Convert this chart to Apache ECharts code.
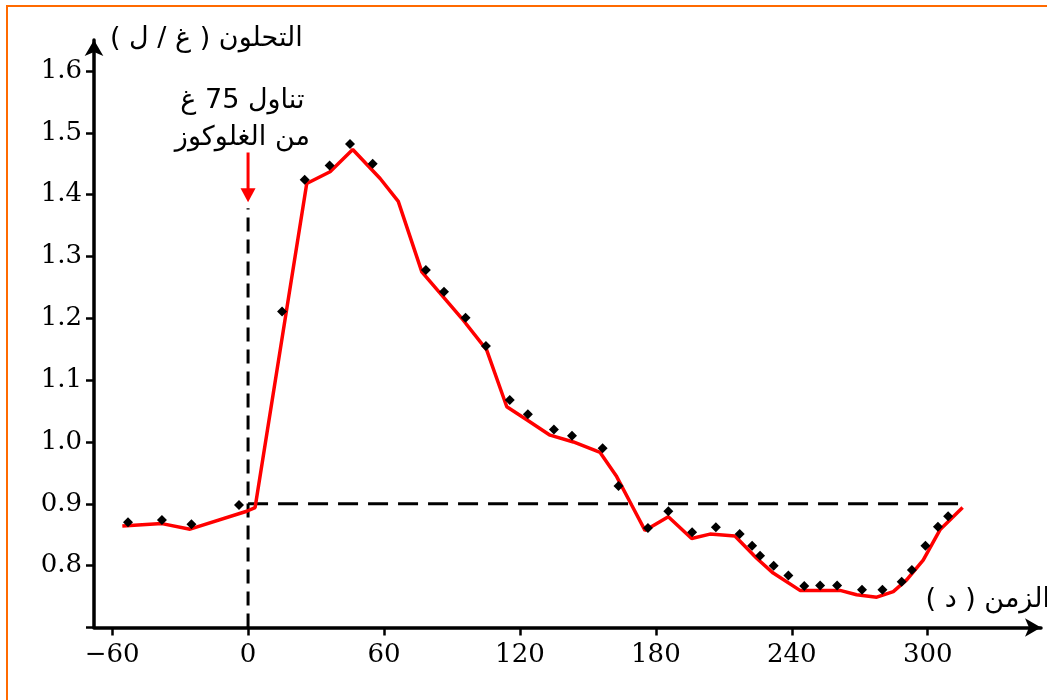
<!DOCTYPE html>
<html>
<head>
<meta charset="utf-8">
<title>glycemia</title>
<script src="https://cdn.jsdelivr.net/npm/echarts/dist/echarts.min.js"></script>
<style type="text/css">
  html, body {margin:0; padding:0; background:#fff;}
  #chart {width:1047px; height:700px;}
</style>
</head>
<body>
<div id="chart"></div>
<script type="text/javascript">
  // measured points (time in min, glycemia g/L)
  var dotTimes  = [-53, -38, -25, -4, 15, 25, 36, 45, 55, 78.5, 86.5, 96, 105, 115.5, 123.5, 135, 143, 156.5, 163.5,
                   176.5, 185.5, 196, 206.5, 217, 222.5, 226, 232, 238.5, 245.5, 252.5, 260, 271, 280, 288.5, 293, 299, 304.5, 309];
  var dotValues = [0.870, 0.874, 0.867, 0.898, 1.211, 1.424, 1.447, 1.482, 1.450, 1.278, 1.243, 1.201, 1.155, 1.068, 1.045, 1.020, 1.010, 0.990, 0.929,
                   0.861, 0.888, 0.854, 0.862, 0.851, 0.832, 0.816, 0.800, 0.784, 0.767, 0.768, 0.768, 0.761, 0.761, 0.774, 0.793, 0.832, 0.863, 0.880];

  // red curve
  var curveTimes  = [-55.5, -38, -25.6, -0.6, 3.1, 25.9, 36.2, 46.2, 58.3, 66.3, 76.7, 94.3, 105.3, 114.2, 123, 133.3, 143.6, 155.4, 162.7,
                     169.3, 175.2, 185.5, 195.8, 203.9, 214.9, 224.5, 231.8, 243.6, 261.3, 268.6, 277.5, 284.8, 290.7, 298, 305.4, 315.4];
  var curveValues = [0.864, 0.868, 0.859, 0.888, 0.894, 1.418, 1.437, 1.473, 1.426, 1.389, 1.275, 1.200, 1.149, 1.057, 1.036, 1.011, 1.000, 0.983, 0.944,
                     0.898, 0.857, 0.879, 0.844, 0.851, 0.848, 0.812, 0.788, 0.760, 0.760, 0.753, 0.749, 0.758, 0.777, 0.809, 0.858, 0.894];

  var xTicks = [-60, 0, 60, 120, 180, 240, 300];
  var yTicks = [0.7, 0.8, 0.9, 1.0, 1.1, 1.2, 1.3, 1.4, 1.5, 1.6];
  var yLabels = [0.8, 0.9, 1.0, 1.1, 1.2, 1.3, 1.4, 1.5, 1.6];

  var intakeTime = 0;
  var baseLevel = 0.9;
  var baseLineEnd = 315.4;
  var intakeLineTop = 1.378;
  var arrowFrom = 1.468, arrowTo = 1.399;
  var noteAt = [-2.5, 1.522];

  var yTitle = '\u202Bالتحلون ( غ / ل )\u202C';
  var xTitle = '\u202Bالزمن ( د )\u202C';
  var noteText = 'تناول 75 غ\nمن الغلوكوز';

  var serifFont = 'DejaVu Serif';
  var arabicFont = 'DejaVu Sans';

  var chart = echarts.init(document.getElementById('chart'));

  var option = {
    animation: false,
    backgroundColor: '#fff',
    grid: {left: 94, right: 6, top: 40, bottom: 72.5},
    graphic: [
      {type: 'rect', z: -10, shape: {x: 7, y: 6, width: 1200, height: 900},
       style: {fill: 'none', stroke: '#ff6a00', lineWidth: 2}},
      {type: 'text', left: 110, top: 25,
       style: {text: yTitle, font: '27px "' + arabicFont + '"', fill: '#000'}},
      {type: 'text', right: -3, top: 586,
       style: {text: xTitle, font: '27px "' + arabicFont + '"', fill: '#000'}}
    ],
    xAxis: {
      type: 'value', min: -68, max: 350,
      splitLine: {show: false},
      axisLine: {onZero: false, lineStyle: {color: '#000', width: 3.5},
                 symbol: ['none', 'arrow'], symbolSize: [14, 16]},
      axisTick: {customValues: xTicks, length: 8, lineStyle: {color: '#000', width: 2.5}},
      axisLabel: {customValues: xTicks, margin: 15, color: '#000', fontFamily: serifFont, fontSize: 26,
                  formatter: function (v) { return v < 0 ? '\u2212' + Math.abs(v) : String(v); }}
    },
    yAxis: {
      type: 'value', min: 0.7, max: 1.65,
      splitLine: {show: false},
      axisLine: {onZero: false, lineStyle: {color: '#000', width: 3.5},
                 symbol: ['none', 'arrow'], symbolSize: [14, 16]},
      axisTick: {customValues: yTicks, length: 8, lineStyle: {color: '#000', width: 2.5}},
      axisLabel: {customValues: yLabels, margin: 12, color: '#000', fontFamily: serifFont, fontSize: 26,
                  formatter: function (v) { return v.toFixed(1); }}
    },
    series: [
      {
        // vertical dashed line at intake
        type: 'line', silent: true, symbol: 'none', z: 1,
        lineStyle: {color: '#000', width: 3, type: [14, 8]},
        data: [[intakeTime, 0.7], [intakeTime, intakeLineTop]]
      },
      {
        // horizontal dashed line 0.9
        type: 'line', silent: true, symbol: 'none', z: 1,
        lineStyle: {color: '#000', width: 3, type: [20, 10]},
        data: [[intakeTime, baseLevel], [baseLineEnd, baseLevel]]
      },
      {
        type: 'line', silent: true, z: 2,
        symbol: 'none',
        lineStyle: {color: '#ff0000', width: 3.5},
        data: curveTimes.map(function (t, i) { return [t, curveValues[i]]; })
      },
      {
        type: 'scatter', silent: true, z: 3,
        symbol: 'diamond', symbolSize: 10,
        itemStyle: {color: '#000', opacity: 1},
        data: dotTimes.map(function (t, i) { return [t, dotValues[i]]; })
      },
      {
        // red arrow
        type: 'line', silent: true, z: 4,
        lineStyle: {color: '#ff0000', width: 3},
        itemStyle: {color: '#ff0000'},
        data: [
          {value: [intakeTime, arrowFrom], symbol: 'none'},
          {value: [intakeTime, arrowTo], symbol: 'triangle', symbolRotate: 180, symbolSize: [15, 14]}
        ]
      },
      {
        type: 'scatter', silent: true, z: 5, symbolSize: 0,
        itemStyle: {opacity: 1},
        data: [noteAt],
        label: {show: true, position: 'inside', formatter: noteText, color: '#000', opacity: 1,
                fontFamily: arabicFont, fontSize: 27, lineHeight: 37, align: 'center'}
      }
    ]
  };

  chart.setOption(option);
</script>
</body>
</html>
